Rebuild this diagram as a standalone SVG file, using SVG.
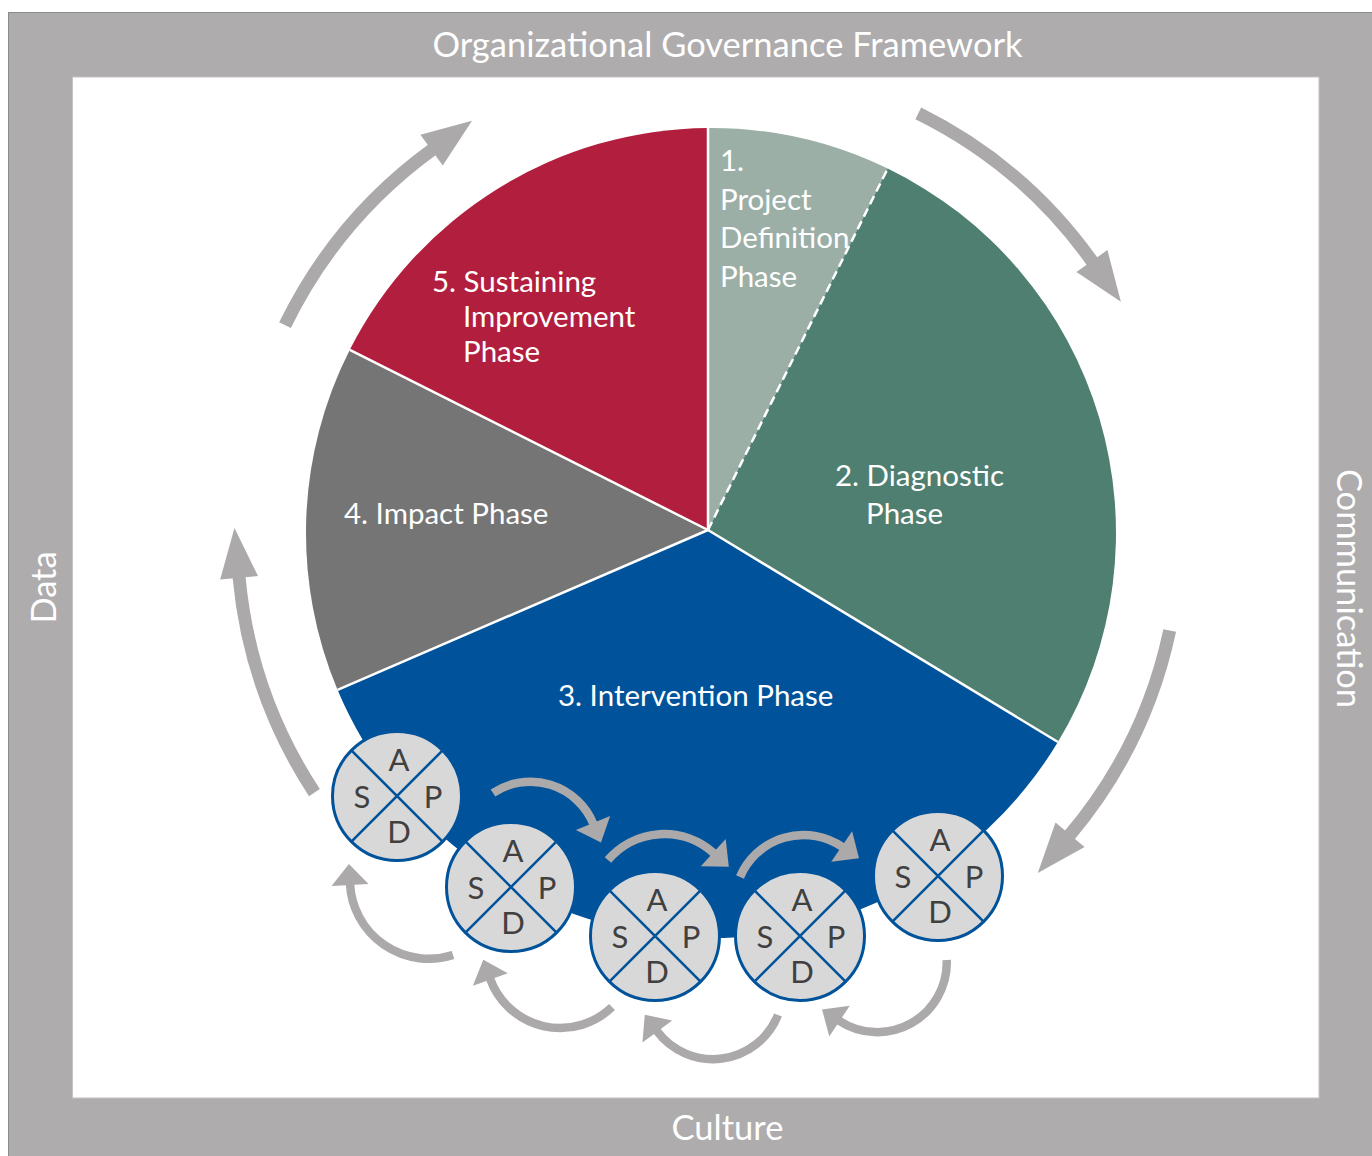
<svg xmlns="http://www.w3.org/2000/svg" width="1372" height="1156" viewBox="0 0 1372 1156">
  <defs>
    <style>
      .lbl { font-family: Lato, "Open Sans", "Liberation Sans", sans-serif; fill: #ffffff; }
      .frame-t { font-size: 34.5px; text-anchor: middle; }
      .ph { font-size: 29.5px; }
      .sep { stroke: #ffffff; stroke-width: 2.5; fill: none; }
      .pdsa circle { fill: #d9d8d8; stroke: #00539b; stroke-width: 3; }
      .pdsa path { stroke: #00539b; stroke-width: 2.6; fill: none; }
      .pdsa text { font-family: Lato, "Open Sans", "Liberation Sans", sans-serif; font-size: 31px; fill: #404040; text-anchor: middle; }
      .big { fill: none; stroke: #aba9aa; stroke-width: 13; marker-end: url(#headL); }
      .small { fill: none; stroke: #aba9aa; stroke-width: 8.5; marker-end: url(#headS); }
    </style>
    <marker id="headL" markerUnits="userSpaceOnUse" viewBox="0 -25 60 50" markerWidth="60" markerHeight="50" refX="1" refY="0" orient="auto" overflow="visible">
      <path d="M0,-19 L50,0 L0,19 Z" fill="#aba9aa"/>
    </marker>
    <marker id="headS" markerUnits="userSpaceOnUse" viewBox="0 -20 26 40" markerWidth="26" markerHeight="40" refX="1" refY="0" orient="auto" overflow="visible">
      <path d="M0,-18.5 L21,0 L0,18.5 Z" fill="#aba9aa"/>
    </marker>
  </defs>

  <!-- page background and framework border -->
  <rect x="0" y="0" width="1372" height="1156" fill="#ffffff"/>
  <g id="framework">
    <rect x="8.5" y="12.5" width="1370" height="1150" fill="#aeacad" stroke="#8c8b8b" stroke-width="1"/>
    <rect x="72.5" y="77" width="1246.5" height="1021" fill="#ffffff" stroke="#c4c3c3" stroke-width="1"/>
    <text class="lbl frame-t" x="727.5" y="57">Organizational Governance Framework</text>
    <text class="lbl frame-t" x="727.5" y="1140">Culture</text>
    <text class="lbl frame-t" transform="translate(56,587.5) rotate(-90)">Data</text>
    <text class="lbl frame-t" transform="translate(1337,588.5) rotate(90)">Communication</text>
  </g>

  <!-- phase wheel -->
  <g id="phase-1">
    <path d="M708,530 L708,128 A405,405 0 0 1 887.7,168.6 Z" fill="#9bafa7"/>
  </g>
  <g id="phase-2">
    <path d="M708,530 L887.7,168.6 A405,405 0 0 1 1057.9,742 Z" fill="#4f7f70"/>
  </g>
  <g id="phase-3">
    <path d="M708,530 L1057.9,742 A405,405 0 0 1 337.6,689.9 Z" fill="#00539b"/>
  </g>
  <g id="phase-4">
    <path d="M708,530 L337.6,689.9 A405,405 0 0 1 349.8,349.8 Z" fill="#747574"/>
  </g>
  <g id="phase-5">
    <path d="M708,530 L349.8,349.8 A405,405 0 0 1 708,128 Z" fill="#b21e3d"/>
  </g>
  <g id="wheel-separators">
    <path class="sep" d="M708,530 L708,128"/>
    <path class="sep" d="M708,530 L1057.9,742"/>
    <path class="sep" d="M708,530 L337.6,689.9" stroke-width="3.5"/>
    <path class="sep" d="M708,530 L349.8,349.8" stroke-width="3.5"/>
    <path class="sep" d="M708,530 L887.7,168.6" stroke-dasharray="9 5"/>
  </g>
  <g id="phase-labels">
    <text class="lbl ph" x="720" y="171">1.</text>
    <text class="lbl ph" x="720" y="210">Project</text>
    <text class="lbl ph" x="720" y="248">Definition</text>
    <text class="lbl ph" x="720" y="287">Phase</text>
    <text class="lbl ph" x="835" y="486">2. Diagnostic</text>
    <text class="lbl ph" x="866" y="524">Phase</text>
    <text class="lbl ph" x="558" y="706">3. Intervention Phase</text>
    <text class="lbl ph" x="344" y="524">4. Impact Phase</text>
    <text class="lbl ph" x="432" y="292">5. Sustaining</text>
    <text class="lbl ph" x="463" y="327">Improvement</text>
    <text class="lbl ph" x="463" y="362">Phase</text>
  </g>

  <!-- PDSA cycles -->
  <g id="pdsa-1" class="pdsa" transform="translate(397,796)">
    <circle r="64.5"/>
    <path d="M-45.6,-45.6 L45.6,45.6 M45.6,-45.6 L-45.6,45.6"/>
    <text x="2" y="-25">A</text><text x="-35" y="12">S</text><text x="36" y="12">P</text><text x="2" y="47">D</text>
  </g>
  <g id="pdsa-2" class="pdsa" transform="translate(511,887)">
    <circle r="64.5"/>
    <path d="M-45.6,-45.6 L45.6,45.6 M45.6,-45.6 L-45.6,45.6"/>
    <text x="2" y="-25">A</text><text x="-35" y="12">S</text><text x="36" y="12">P</text><text x="2" y="47">D</text>
  </g>
  <g id="pdsa-3" class="pdsa" transform="translate(655,936)">
    <circle r="64.5"/>
    <path d="M-45.6,-45.6 L45.6,45.6 M45.6,-45.6 L-45.6,45.6"/>
    <text x="2" y="-25">A</text><text x="-35" y="12">S</text><text x="36" y="12">P</text><text x="2" y="47">D</text>
  </g>
  <g id="pdsa-4" class="pdsa" transform="translate(800,936)">
    <circle r="64.5"/>
    <path d="M-45.6,-45.6 L45.6,45.6 M45.6,-45.6 L-45.6,45.6"/>
    <text x="2" y="-25">A</text><text x="-35" y="12">S</text><text x="36" y="12">P</text><text x="2" y="47">D</text>
  </g>
  <g id="pdsa-5" class="pdsa" transform="translate(938,876)">
    <circle r="64.5"/>
    <path d="M-45.6,-45.6 L45.6,45.6 M45.6,-45.6 L-45.6,45.6"/>
    <text x="2" y="-25">A</text><text x="-35" y="12">S</text><text x="36" y="12">P</text><text x="2" y="47">D</text>
  </g>

  <!-- connectors: cycle arrows around the wheel and between PDSA cycles -->
  <g id="connectors">
    <path class="big" d="M285,325.2 A474,474 0 0 1 432.4,149.5"/>
    <path class="big" d="M918.3,113.4 A468,468 0 0 1 1092.5,261.9"/>
    <path class="big" d="M1169.7,630.5 A469,469 0 0 1 1069.4,835.5"/>
    <path class="big" d="M314.4,792.6 A474,474 0 0 1 239,576.8"/>

    <path class="small" d="M493,793 A68,68 0 0 1 593.4,824"/>
    <path class="small" d="M608,860 A74,74 0 0 1 714,853.3"/>
    <path class="small" d="M740,877 A69,69 0 0 1 842.5,847"/>

    <path class="small" d="M453,955 A79,79 0 0 1 350,884"/>
    <path class="small" d="M612,1007 A74.5,74.5 0 0 1 490,978.5"/>
    <path class="small" d="M778,1015 A70,70 0 0 1 656.7,1030.8"/>
    <path class="small" d="M946.7,960 A69.5,69.5 0 0 1 838.7,1020.5"/>
  </g>
</svg>
